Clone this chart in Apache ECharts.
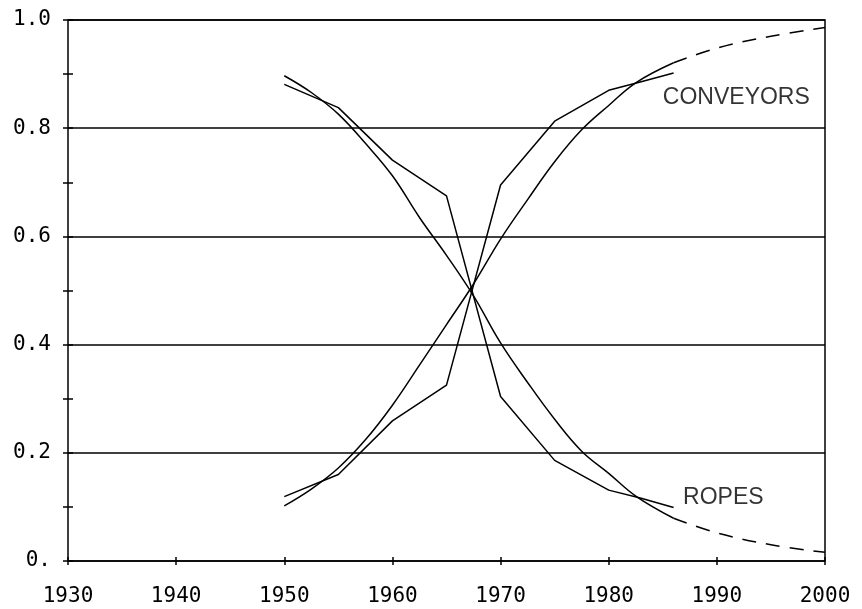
<!DOCTYPE html>
<html>
<head>
<meta charset="utf-8">
<script src="https://cdn.jsdelivr.net/npm/echarts@6/dist/echarts.min.js"></script>
<style>
  html, body { margin: 0; padding: 0; background: #fff; }
  #chart { width: 862px; height: 609px; }
</style>
</head>
<body>
<div id="chart"></div>
<script>
// observed shares (jagged lines)
const ropesObserved = [[1950, 0.881], [1955, 0.838], [1960, 0.741], [1965, 0.675], [1970, 0.304], [1975, 0.186], [1980, 0.131], [1983, 0.116], [1986, 0.099]]
const conveyorsObserved = [[1950, 0.119], [1955, 0.160], [1960, 0.259], [1965, 0.325], [1970, 0.695], [1975, 0.813], [1980, 0.870], [1983, 0.886], [1986, 0.902]]

// fitted curves, solid part
const ropesFit = [[1950, 0.897], [1952.5, 0.866], [1955, 0.826], [1957.5, 0.772], [1960, 0.712], [1962.5, 0.635], [1965, 0.565], [1967.5, 0.49], [1970, 0.403], [1972.5, 0.330], [1975, 0.262], [1977.5, 0.203], [1980, 0.162], [1982.5, 0.120], [1986, 0.079]]
const conveyorsFit = [[1950, 0.102], [1952.5, 0.133], [1955, 0.172], [1957.5, 0.224], [1960, 0.288], [1962.5, 0.362], [1965, 0.437], [1967.5, 0.512], [1970, 0.595], [1972.5, 0.668], [1975, 0.738], [1977.5, 0.797], [1980, 0.842], [1982.5, 0.884], [1986, 0.921]]

// fitted curves, projected (dashed)
const ropesForecast = [[1986, 0.079], [1990, 0.052], [1995, 0.030], [2000, 0.016]]
const conveyorsForecast = [[1986, 0.921], [1990, 0.948], [1995, 0.970], [2000, 0.986]]

const curveLabels = [
  { name: 'CONVEYORS', value: [1991.8, 0.856] },
  { name: 'ROPES', value: [1990.6, 0.117] }
]

const chart = echarts.init(document.getElementById('chart'))

const lineSeries = (data, dashed, smooth) => ({
  type: 'line',
  data: data,
  smooth: smooth ? 0.4 : false,
  symbol: 'none',
  silent: true,
  lineStyle: { color: '#000', width: 1.5, type: dashed ? [14, 10] : 'solid' }
})

const tickFont = { color: '#000', fontFamily: 'DejaVu Sans Mono', fontSize: 21 }

chart.setOption({
  backgroundColor: '#fff',
  animation: false,
  grid: {
    left: 68, right: 37, top: 20, bottom: 48,
    show: true, borderColor: '#000', borderWidth: 1.5,
    containLabel: false, outerBoundsMode: 'none'
  },
  xAxis: {
    type: 'value',
    min: 1930, max: 2000, interval: 10,
    offset: -4,
    axisLine: { show: false, onZero: false },
    axisTick: { show: true, length: 8, lineStyle: { color: '#000', width: 1.5 } },
    axisLabel: Object.assign({ margin: 29, formatter: v => String(v) }, tickFont),
    splitLine: { show: false }
  },
  yAxis: {
    type: 'value',
    min: 0, max: 1, interval: 0.2,
    offset: -5,
    axisLine: { show: false, onZero: false },
    axisTick: { show: true, length: 10, lineStyle: { color: '#000', width: 1.5 } },
    minorTick: { show: true, splitNumber: 2, length: 10, lineStyle: { color: '#000', width: 1.5 } },
    axisLabel: Object.assign({ margin: 22, formatter: v => v === 0 ? '0.' : v.toFixed(1) }, tickFont),
    splitLine: { show: true, lineStyle: { color: '#000', width: 1.5 } }
  },
  series: [
    lineSeries(ropesObserved, false, false),
    lineSeries(conveyorsObserved, false, false),
    lineSeries(ropesFit, false, true),
    lineSeries(conveyorsFit, false, true),
    lineSeries(ropesForecast, true, true),
    lineSeries(conveyorsForecast, true, true),
    {
      type: 'scatter',
      data: curveLabels,
      symbolSize: 0,
      silent: true,
      itemStyle: { color: '#000' },
      label: {
        show: true,
        position: 'inside',
        formatter: p => p.name,
        color: '#000',
        textBorderWidth: 0,
        fontFamily: 'Liberation Sans',
        fontSize: 23
      }
    }
  ]
})
</script>
</body>
</html>
